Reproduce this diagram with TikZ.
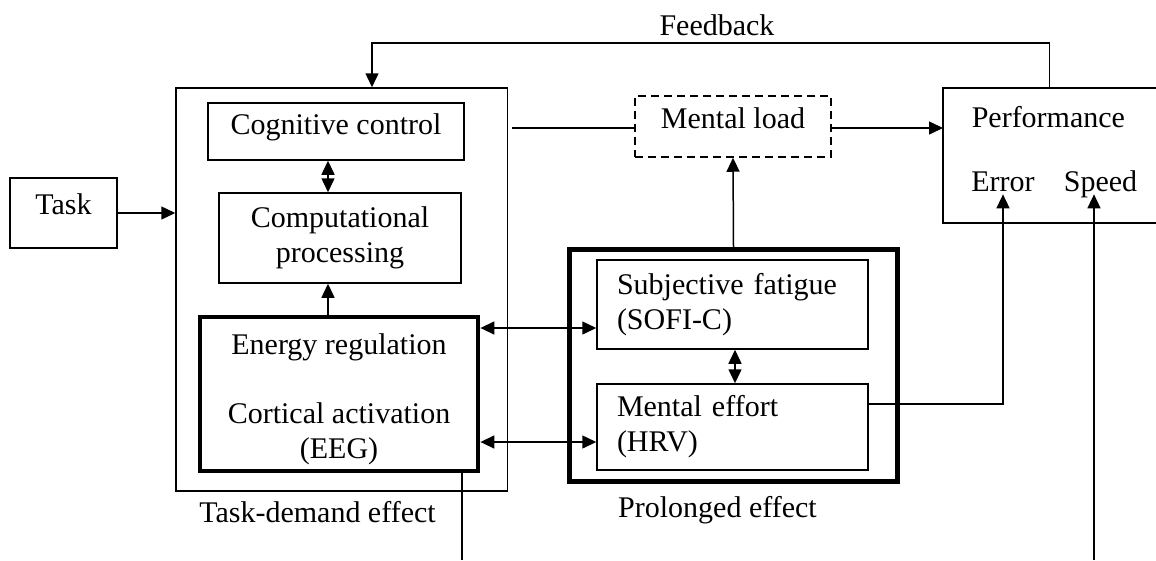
\documentclass[tikz,border=0pt]{standalone}
\usepackage{fontspec}
\setmainfont{Liberation Serif}
\usetikzlibrary{arrows.meta,calc}
\begin{document}
\begin{tikzpicture}[x=1pt,y=-1pt,
  font=\fontsize{30}{35}\selectfont,
  line width=1.5pt,
  >={Triangle[length=14pt,width=13pt]},
  box/.style={draw, rectangle, inner sep=0pt, align=center},
  heavybox/.style={draw, rectangle, line width=4.8pt, inner sep=0pt},
  dashedbox/.style={draw, rectangle, dash pattern=on 8pt off 5pt, inner sep=0pt},
  lbl/.style={inner sep=0pt, anchor=base},
  arr/.style={->},
  dbl/.style={<->},
  single/.style={text height=0.68em, text depth=0.22em}
]
\useasboundingbox (0,0) rectangle (1156,560);

% left block
\node[box,text height=0.68em,text depth=0.3em,minimum width=107pt,minimum height=70pt] (task) at (63.5,213) {Task};
\node[box,minimum width=331.5pt,minimum height=403pt] (outer) at (341.75,289.5) {};
\node[box,text height=0.68em,text depth=0.08em,minimum width=256pt,minimum height=57pt] (cc) at (336,131.5) {Cognitive control};
\node[box,minimum width=242pt,minimum height=90pt] (cp) at (340,238) {Computational\\processing};
\node[heavybox,minimum width=278pt,minimum height=154pt] (en) at (339,394) {};
\node[align=center,inner sep=0pt] (entx) at (339,399) {Energy regulation\\[34pt]Cortical activation\\(EEG)};
\node[lbl] (tdl) at (317.5,522) {Task-demand effect};

% middle block
\node[dashedbox,single,minimum width=196pt,minimum height=61pt] (ml) at (733,126.5) {Mental load};
\node[heavybox,minimum width=328pt,minimum height=232pt] (pe) at (733.5,365.5) {};
\node[box,align=left,text width=231pt,inner xsep=20pt,minimum height=89pt] (sf) at (732.5,304.5) {Subjective fatigue\\(SOFI-C)};
\node[box,align=left,text width=231pt,inner xsep=20pt,minimum height=86pt] (me) at (732.5,427) {Mental effort\\(HRV)};
\node[lbl] (pel) at (717.5,517) {Prolonged effect};

% performance
\node[inner sep=0pt,outer sep=0pt,minimum width=213pt,minimum height=135pt] (perf) at (1049.5,155.5) {};
\draw (perf.north east) -- (perf.north west) -- (perf.south west) -- (perf.south east);
\node[lbl,anchor=base west] (perft) at (971,127) {Performance};
\node[single,inner sep=0pt] (err) at (1003,189.1) {Error};
\node[single,inner sep=0pt] (spd) at (1100.5,189.1) {Speed};
\node[lbl] (fbt) at (717,35) {Feedback};

% helper coordinates
\coordinate (ax) at (328,0);
\coordinate (bx) at (735,0);
\coordinate (r1) at (0,328);
\coordinate (r2) at (0,442);
\coordinate (mly) at (0,128);
\coordinate (fbl) at (372,43);
\coordinate (ery) at (0,404);
\coordinate (sbot) at (1094,560);
\coordinate (ebot) at (462,560);

% connectors
\draw[arr] (task.east) -- (task.east -| outer.west);
\draw[dbl] (cc.south -| ax) -- (cp.north -| ax);
\draw[arr] (en.north -| ax) -- (cp.south -| ax);
\draw[dbl] (en.east |- r1) -- (sf.west |- r1);
\draw[dbl] (en.east |- r2) -- (me.west |- r2);
\draw[dbl] (sf.south -| bx) -- (me.north -| bx);
\draw[arr] (pe.north) -- (ml.south);
\draw ($(outer.east |- mly)+(4,0)$) -- (ml.west |- mly);
\draw[arr] (ml.east |- mly) -- (perf.west |- mly);
\draw[arr] (perf.north) |- (fbl) -- (outer.north -| fbl);
\draw[arr] (me.east |- ery) -| (err.south);
\draw[arr] (sbot) -- (spd.south -| sbot);
\draw (en.south -| ebot) -- (ebot);
\end{tikzpicture}
\end{document}
